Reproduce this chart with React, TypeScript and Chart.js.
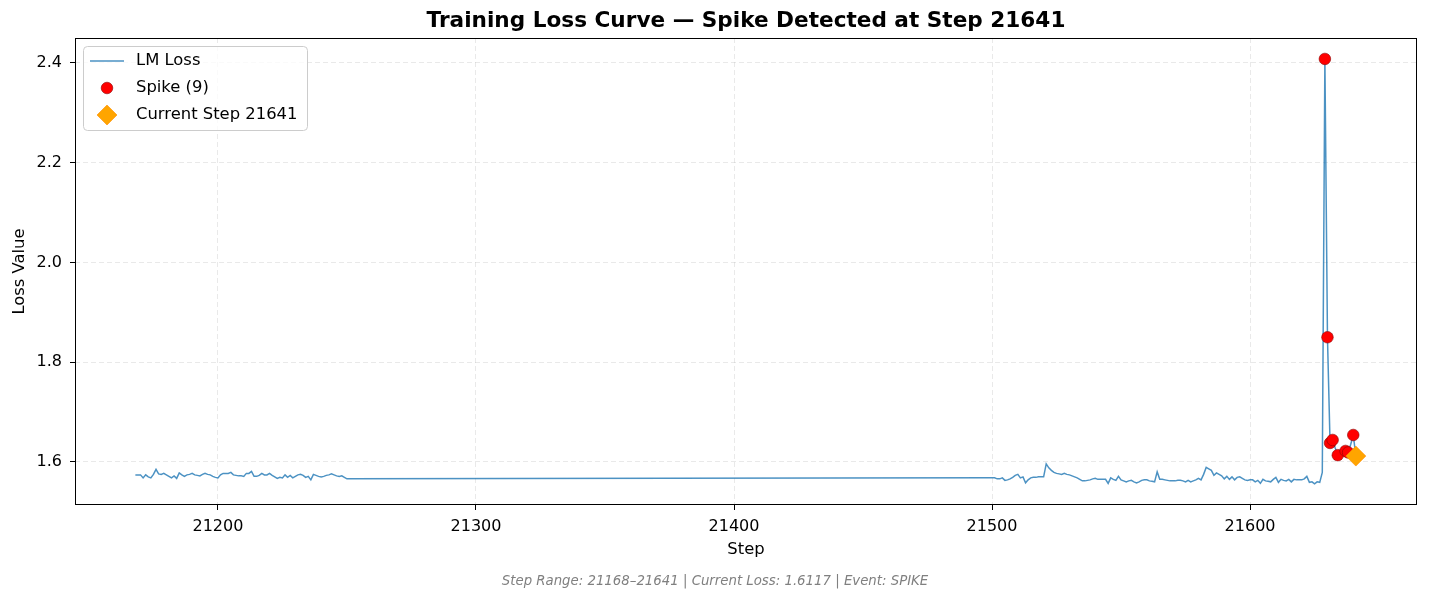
import React, { useEffect, useRef } from 'react';
import { Chart, registerables, Plugin } from 'chart.js';

Chart.register(...registerables);

// LM loss per step, two logged segments
const leftStart = 21168;
const leftLoss = [
  1.574, 1.574, 1.574, 1.568, 1.574, 1.570, 1.568, 1.575, 1.585, 1.576,
  1.575, 1.577, 1.574, 1.571, 1.568, 1.572, 1.567, 1.578, 1.574, 1.571,
  1.574, 1.575, 1.577, 1.574, 1.573, 1.572, 1.575, 1.577, 1.575, 1.574,
  1.571, 1.569, 1.568, 1.574, 1.577, 1.577, 1.577, 1.579, 1.574, 1.573,
  1.572, 1.572, 1.571, 1.577, 1.577, 1.581, 1.571, 1.571, 1.573, 1.577,
  1.574, 1.574, 1.577, 1.573, 1.570, 1.567, 1.569, 1.568, 1.574, 1.569,
  1.573, 1.568, 1.571, 1.574, 1.575, 1.573, 1.569, 1.571, 1.564, 1.575,
  1.573, 1.571, 1.570, 1.571, 1.573, 1.574, 1.576, 1.574, 1.572, 1.571,
  1.572, 1.569, 1.566,
];
const rightStart = 21500;
const rightLoss = [
  1.568, 1.568, 1.566, 1.566, 1.568, 1.563, 1.564, 1.566, 1.569, 1.573,
  1.575, 1.568, 1.570, 1.558, 1.564, 1.568, 1.569, 1.569, 1.570, 1.570,
  1.570, 1.596, 1.588, 1.583, 1.579, 1.577, 1.576, 1.575, 1.577, 1.575,
  1.574, 1.572, 1.570, 1.568, 1.565, 1.562, 1.562, 1.563, 1.564, 1.566,
  1.567, 1.565, 1.565, 1.565, 1.565, 1.557, 1.568, 1.565, 1.563, 1.571,
  1.564, 1.562, 1.560, 1.562, 1.563, 1.560, 1.558, 1.560, 1.563, 1.564,
  1.564, 1.562, 1.561, 1.560, 1.580, 1.565, 1.565, 1.564, 1.563, 1.562,
  1.562, 1.562, 1.563, 1.563, 1.562, 1.560, 1.563, 1.560, 1.562, 1.564,
  1.567, 1.564, 1.575, 1.589, 1.586, 1.583, 1.573, 1.578, 1.575, 1.572,
  1.566, 1.571, 1.565, 1.570, 1.564, 1.569, 1.570, 1.567, 1.564, 1.563,
  1.564, 1.564, 1.560, 1.563, 1.557, 1.565, 1.562, 1.561, 1.560, 1.565,
  1.569, 1.559, 1.565, 1.563, 1.562, 1.565, 1.560, 1.565, 1.564, 1.564,
  1.564, 1.566, 1.571, 1.559, 1.560, 1.556, 1.560, 1.559, 1.579,
  2.408, 1.850, 1.638, 1.644, 1.628, 1.6135, 1.617, 1.621, 1.622, 1.619,
  1.635, 1.654, 1.6117,
];
const spikeSteps = [21629, 21630, 21631, 21632, 21634, 21637, 21638, 21640, 21641];
const currentStep = 21641;
const currentLoss = 1.6117;

const xTicks = [21200, 21300, 21400, 21500, 21600];
const yTicks = [1.6, 1.8, 2.0, 2.2, 2.4];

const FONT = "'DejaVu Sans', sans-serif";
const LINE_COLOR = 'rgba(31, 119, 180, 0.8)';

const lossPoints = [
  ...leftLoss.map((y, i) => ({ x: leftStart + i, y })),
  ...rightLoss.map((y, i) => ({ x: rightStart + i, y })),
];
const lossAt = (step: number) => lossPoints.find((p) => p.x === step)!.y;
const spikePoints = spikeSteps.map((s) => ({ x: s, y: lossAt(s) }));

const decorations: Plugin = {
  id: 'decorations',
  afterDraw(chart) {
    const { ctx, chartArea: a } = chart;
    ctx.save();
    // frame
    ctx.strokeStyle = '#000';
    ctx.lineWidth = 1;
    ctx.strokeRect(a.left + 0.5, a.top + 0.5, a.right - a.left - 1, a.bottom - a.top - 1);

    // title
    ctx.fillStyle = '#000';
    ctx.textAlign = 'center';
    ctx.textBaseline = 'middle';
    ctx.font = `bold 21.6px ${FONT}`;
    ctx.fillText('Training Loss Curve — Spike Detected at Step 21641', (a.left + a.right) / 2, 21);

    // axis titles
    ctx.font = `16.4px ${FONT}`;
    ctx.fillText('Step', (a.left + a.right) / 2, 550);
    ctx.save();
    ctx.translate(20, (a.top + a.bottom) / 2);
    ctx.rotate(-Math.PI / 2);
    ctx.fillText('Loss Value', 0, 0);
    ctx.restore();

    // footer
    ctx.font = `italic 13.3px ${FONT}`;
    ctx.fillStyle = '#808080';
    ctx.fillText('Step Range: 21168–21641 | Current Loss: 1.6117 | Event: SPIKE', 715, 582);

    // legend
    const lx = 83, ly = 46, lw = 224, lh = 84;
    ctx.beginPath();
    ctx.roundRect(lx + 0.5, ly + 0.5, lw, lh, 4);
    ctx.fillStyle = 'rgba(255,255,255,0.8)';
    ctx.fill();
    ctx.strokeStyle = '#cccccc';
    ctx.lineWidth = 1;
    ctx.stroke();

    ctx.strokeStyle = LINE_COLOR;
    ctx.lineWidth = 1.5;
    ctx.beginPath();
    ctx.moveTo(90, 61);
    ctx.lineTo(124, 61);
    ctx.stroke();

    ctx.beginPath();
    ctx.arc(107, 88, 5.8, 0, Math.PI * 2);
    ctx.fillStyle = '#ff0000';
    ctx.fill();
    ctx.strokeStyle = '#8b0000';
    ctx.lineWidth = 0.6;
    ctx.stroke();

    ctx.beginPath();
    ctx.moveTo(107, 105);
    ctx.lineTo(117, 115);
    ctx.lineTo(107, 125);
    ctx.lineTo(97, 115);
    ctx.closePath();
    ctx.fillStyle = '#ffa500';
    ctx.fill();
    ctx.strokeStyle = '#ff8c00';
    ctx.stroke();

    ctx.fillStyle = '#000';
    ctx.textAlign = 'left';
    ctx.font = `16.4px ${FONT}`;
    ctx.fillText('LM Loss', 136, 61);
    ctx.fillText('Spike (9)', 136, 88);
    ctx.fillText(`Current Step ${currentStep}`, 136, 115);
    ctx.restore();
  },
};

const App: React.FC = () => {
  const canvasRef = useRef<HTMLCanvasElement>(null);
  const chartRef = useRef<Chart>();

  useEffect(() => {
    document.body.style.margin = '0';
    const ctx = canvasRef.current?.getContext('2d');
    if (!ctx) return;
    if (chartRef.current) chartRef.current.destroy();

    chartRef.current = new Chart(ctx, {
      type: 'line',
      data: {
        datasets: [
          {
            type: 'scatter',
            label: 'Current Step',
            data: [{ x: currentStep, y: currentLoss }],
            pointStyle: 'rectRot',
            pointRadius: 10,
            backgroundColor: '#ffa500',
            borderColor: '#ff8c00',
            borderWidth: 0.6,
            order: 0,
          },
          {
            type: 'scatter',
            label: 'Spike (9)',
            data: spikePoints,
            pointStyle: 'circle',
            pointRadius: 5.8,
            backgroundColor: '#ff0000',
            borderColor: '#8b0000',
            borderWidth: 0.6,
            order: 1,
          },
          {
            type: 'line',
            label: 'LM Loss',
            data: lossPoints,
            borderColor: LINE_COLOR,
            borderWidth: 1.5,
            pointRadius: 0,
            tension: 0,
            fill: false,
            order: 2,
          },
        ],
      },
      options: {
        animation: false,
        responsive: false,
        devicePixelRatio: 1,
        layout: { padding: { top: 38, right: 12, left: 0, bottom: 0 } },
        plugins: {
          legend: { display: false },
          title: { display: false },
          tooltip: { enabled: false },
        },
        scales: {
          x: {
            type: 'linear',
            min: 21144.6,
            max: 21664.7,
            afterFit: (scale) => {
              scale.height = 97;
            },
            afterBuildTicks: (scale) => {
              scale.ticks = xTicks.map((v) => ({ value: v }));
            },
            ticks: {
              color: '#000',
              font: { family: FONT, size: 16 },
              padding: 7,
              maxRotation: 0,
              callback: (v) => String(v),
            },
            grid: {
              color: 'rgba(176,176,176,0.35)',
              lineWidth: 0.8,
              tickColor: '#000',
              tickLength: 5,
              tickWidth: 1,
            },
            border: { display: false, dash: [5, 3] },
          },
          y: {
            type: 'linear',
            min: 1.5136,
            max: 2.45,
            afterFit: (scale) => {
              scale.width = 75;
            },
            afterBuildTicks: (scale) => {
              scale.ticks = yTicks.map((v) => ({ value: v }));
            },
            ticks: {
              color: '#000',
              font: { family: FONT, size: 16 },
              padding: 8,
              callback: (v) => Number(v).toFixed(1),
            },
            grid: {
              color: 'rgba(176,176,176,0.35)',
              lineWidth: 0.8,
              tickColor: '#000',
              tickLength: 5,
              tickWidth: 1,
            },
            border: { display: false, dash: [5, 3] },
          },
        },
      },
      plugins: [decorations],
    });

    return () => {
      if (chartRef.current) {
        chartRef.current.destroy();
        chartRef.current = undefined;
      }
    };
  }, []);

  return (
    <div style={{ width: 1429, height: 602 }}>
      <canvas ref={canvasRef} width={1429} height={602}></canvas>
    </div>
  );
};

export default App;
